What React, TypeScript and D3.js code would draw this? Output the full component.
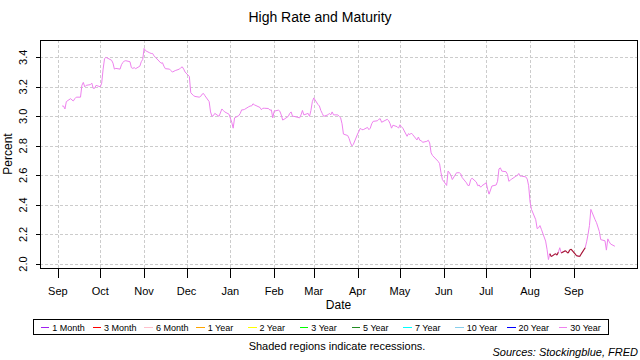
import React from 'react';
import * as d3 from 'd3';

const dates: string[] = [
  '2018-09-04','2018-09-05','2018-09-06','2018-09-07','2018-09-10','2018-09-11','2018-09-12','2018-09-13','2018-09-14',
  '2018-09-17','2018-09-18','2018-09-19','2018-09-20','2018-09-21','2018-09-24','2018-09-25','2018-09-26','2018-09-27','2018-09-28',
  '2018-10-01','2018-10-02','2018-10-03','2018-10-04','2018-10-05','2018-10-09','2018-10-10','2018-10-11','2018-10-12',
  '2018-10-15','2018-10-16','2018-10-17','2018-10-18','2018-10-19','2018-10-22','2018-10-23','2018-10-24','2018-10-25','2018-10-26',
  '2018-10-29','2018-10-30','2018-10-31','2018-11-01','2018-11-02','2018-11-05','2018-11-06','2018-11-07','2018-11-08','2018-11-09',
  '2018-11-13','2018-11-14','2018-11-15','2018-11-16','2018-11-19','2018-11-20','2018-11-21','2018-11-23',
  '2018-11-26','2018-11-27','2018-11-28','2018-11-29','2018-11-30','2018-12-03','2018-12-04','2018-12-06','2018-12-07',
  '2018-12-10','2018-12-11','2018-12-12','2018-12-13','2018-12-14','2018-12-17','2018-12-18','2018-12-19','2018-12-20','2018-12-21',
  '2018-12-24','2018-12-26','2018-12-27','2018-12-28','2018-12-31','2019-01-02','2019-01-03','2019-01-04',
  '2019-01-07','2019-01-08','2019-01-09','2019-01-10','2019-01-11','2019-01-14','2019-01-15','2019-01-16','2019-01-17','2019-01-18',
  '2019-01-22','2019-01-23','2019-01-24','2019-01-25','2019-01-28','2019-01-29','2019-01-30','2019-01-31','2019-02-01',
  '2019-02-04','2019-02-05','2019-02-06','2019-02-07','2019-02-08','2019-02-11','2019-02-12','2019-02-13','2019-02-14','2019-02-15',
  '2019-02-19','2019-02-20','2019-02-21','2019-02-22','2019-02-25','2019-02-26','2019-02-27','2019-02-28','2019-03-01',
  '2019-03-04','2019-03-05','2019-03-06','2019-03-07','2019-03-08','2019-03-11','2019-03-12','2019-03-13','2019-03-14','2019-03-15',
  '2019-03-18','2019-03-19','2019-03-20','2019-03-21','2019-03-22','2019-03-25','2019-03-26','2019-03-27','2019-03-28','2019-03-29',
  '2019-04-01','2019-04-02','2019-04-03','2019-04-04','2019-04-05','2019-04-08','2019-04-09','2019-04-10','2019-04-11','2019-04-12',
  '2019-04-15','2019-04-16','2019-04-17','2019-04-18','2019-04-22','2019-04-23','2019-04-24','2019-04-25','2019-04-26',
  '2019-04-29','2019-04-30','2019-05-01','2019-05-02','2019-05-03','2019-05-06','2019-05-07','2019-05-08','2019-05-09','2019-05-10',
  '2019-05-13','2019-05-14','2019-05-15','2019-05-16','2019-05-17','2019-05-20','2019-05-21','2019-05-22','2019-05-23','2019-05-24',
  '2019-05-28','2019-05-29','2019-05-30','2019-05-31','2019-06-03','2019-06-04','2019-06-05','2019-06-06','2019-06-07',
  '2019-06-10','2019-06-11','2019-06-12','2019-06-13','2019-06-14','2019-06-17','2019-06-18','2019-06-19','2019-06-20','2019-06-21',
  '2019-06-24','2019-06-25','2019-06-26','2019-06-27','2019-06-28','2019-07-01','2019-07-02','2019-07-03','2019-07-05',
  '2019-07-08','2019-07-09','2019-07-10','2019-07-11','2019-07-12','2019-07-15','2019-07-16','2019-07-17','2019-07-18','2019-07-19',
  '2019-07-22','2019-07-23','2019-07-24','2019-07-25','2019-07-26','2019-07-29','2019-07-30','2019-07-31','2019-08-01','2019-08-02',
  '2019-08-05','2019-08-06','2019-08-07','2019-08-08','2019-08-09','2019-08-12','2019-08-13','2019-08-14','2019-08-15','2019-08-16',
  '2019-08-19','2019-08-20','2019-08-21','2019-08-22','2019-08-23','2019-08-26','2019-08-27','2019-08-28','2019-08-29','2019-08-30',
  '2019-09-03','2019-09-04','2019-09-05','2019-09-06','2019-09-09','2019-09-10','2019-09-11','2019-09-12','2019-09-13',
  '2019-09-16','2019-09-17','2019-09-18','2019-09-19','2019-09-20','2019-09-23','2019-09-24','2019-09-25','2019-09-26','2019-09-27',
  '2019-09-30'
];

const rates: number[] = [
  3.07,3.07,3.05,3.10,3.12,3.11,3.105,3.12,3.13,
  3.13,3.21,3.23,3.20,3.21,3.215,3.225,3.19,3.19,3.21,
  3.20,3.225,3.32,3.39,3.40,3.38,3.36,3.32,3.325,
  3.32,3.35,3.365,3.375,3.377,3.37,3.33,3.325,3.33,3.323,
  3.34,3.37,3.385,3.46,3.445,3.43,3.426,3.426,3.41,3.40,
  3.36,3.363,3.34,3.323,3.32,3.31,3.30,3.31,
  3.32,3.33,3.335,3.32,3.30,3.27,3.16,3.14,3.135,
  3.13,3.135,3.15,3.155,3.14,3.10,3.03,3.00,3.005,3.02,
  3.00,3.05,3.04,3.03,3.015,2.96,2.92,2.99,
  3.005,3.02,3.044,3.044,3.047,3.065,3.07,3.07,3.085,3.078,
  3.06,3.045,3.055,3.055,3.053,3.042,3.044,2.99,3.035,
  3.042,3.035,3.01,2.975,2.98,3.00,3.02,3.03,3.00,3.00,
  2.99,3.01,3.04,3.01,3.02,3.00,3.04,3.10,3.125,
  3.08,3.07,3.04,3.02,3.00,3.01,3.02,3.01,3.03,3.01,
  3.01,3.00,2.99,2.95,2.88,2.87,2.85,2.82,2.80,2.81,
  2.88,2.90,2.92,2.91,2.91,2.925,2.91,2.92,2.95,2.966,
  2.97,2.98,2.984,2.96,2.98,2.97,2.95,2.92,2.94,
  2.93,2.92,2.943,2.93,2.92,2.865,2.883,2.876,2.887,2.876,
  2.84,2.86,2.838,2.836,2.824,2.831,2.838,2.82,2.753,2.735,
  2.695,2.68,2.618,2.572,2.532,2.629,2.618,2.60,2.572,
  2.618,2.618,2.618,2.61,2.585,2.55,2.532,2.532,2.572,2.581,
  2.555,2.53,2.535,2.52,2.53,2.55,2.505,2.473,2.528,
  2.535,2.56,2.644,2.651,2.629,2.625,2.607,2.56,2.568,2.575,
  2.595,2.60,2.613,2.595,2.595,2.59,2.575,2.53,2.42,2.37,
  2.30,2.24,2.245,2.26,2.235,2.155,2.10,2.03,2.07,2.05,
  2.07,2.06,2.08,2.11,2.075,2.09,2.08,2.074,2.095,2.10,
  2.055,2.054,2.05,2.065,2.11,2.15,2.20,2.26,2.37,
  2.30,2.28,2.25,2.22,2.165,2.157,2.094,2.17,2.15,2.135,
  2.12
];

// Days on which the highest rate came from the short end of the curve (drawn dark red)
const shortEndDates: string[] = [
  '2019-08-15','2019-08-16','2019-08-19','2019-08-20','2019-08-21','2019-08-23','2019-08-26','2019-08-27',
  '2019-08-28','2019-08-29','2019-08-30','2019-09-03','2019-09-04','2019-09-05','2019-09-06','2019-09-09'
];

const monthTicks: string[] = [
  '2018-09-01','2018-10-01','2018-11-01','2018-12-01','2019-01-01','2019-02-01','2019-03-01',
  '2019-04-01','2019-05-01','2019-06-01','2019-07-01','2019-08-01','2019-09-01'
];
const yTicks: number[] = [2.0, 2.2, 2.4, 2.6, 2.8, 3.0, 3.2, 3.4];

const legendLabels: string[] = ['1 Month','3 Month','6 Month','1 Year','2 Year','3 Year','5 Year','7 Year','10 Year','20 Year','30 Year'];
const legendColors: string[] = ['#a020f0','#ff0000','#ffc0cb','#ffa500','#ffff00','#00ff00','#228b22','#00ffff','#87ceeb','#0000ff','#ee82ee'];

const LINE_COLOR = '#ee82ee';
const SHORT_COLOR = '#a51c30';
const FONT = 'Liberation Sans, Arial, Helvetica, sans-serif';

type P = { date: Date; v: number; short: boolean };

export default function App() {
  const W = 640, H = 360;
  const left = 40, right = 637, top = 40, bottom = 268;
  const parse = d3.utcParse('%Y-%m-%d');
  const pts: P[] = dates.map((d, i) => ({ date: parse(d) as Date, v: rates[i], short: shortEndDates.includes(d) }));

  const [xa, xb] = d3.extent(pts, p => +p.date) as [number, number];
  const xs = xb - xa;
  const x = d3.scaleUtc().domain([new Date(xa - 0.04 * xs), new Date(xb + 0.04 * xs)]).range([left, right]);
  const [ya, yb] = d3.extent(rates) as [number, number];
  const ys = yb - ya;
  const y = d3.scaleLinear().domain([ya - 0.04 * ys, yb + 0.04 * ys]).range([bottom, top]);

  const line = d3.line<P>().x(p => x(p.date)).y(p => y(p.v));
  const shortSegs: P[][] = [];
  for (let i = 0; i < pts.length - 1; i++) {
    if (pts[i].short && pts[i + 1].short) shortSegs.push([pts[i], pts[i + 1]]);
  }
  const fmt = d3.utcFormat('%b');
  const ticks = monthTicks.map(s => parse(s) as Date);

  const legendStart = 52.3, legendStep = 51.8;

  return (
    <svg width={W} height={H} style={{ position: 'absolute', left: 0, top: 0, background: '#fff' }} fontFamily={FONT}>
      <rect x={0} y={0} width={W} height={H} fill="#fff" />
      <text x={320} y={22} textAnchor="middle" fontSize={14} fill="#000">High Rate and Maturity</text>

      {/* grid */}
      <g stroke="#cccccc" strokeWidth={1} strokeDasharray="3,2" shapeRendering="crispEdges">
        {ticks.map((t, i) => (
          <line key={'gx' + i} x1={Math.round(x(t)) + 0.5} x2={Math.round(x(t)) + 0.5} y1={top} y2={bottom} />
        ))}
        {yTicks.map((v, i) => (
          <line key={'gy' + i} x1={left} x2={right} y1={Math.round(y(v)) + 0.5} y2={Math.round(y(v)) + 0.5} />
        ))}
      </g>

      {/* data */}
      <path d={line(pts) || ''} fill="none" stroke={LINE_COLOR} strokeWidth={1} />
      {shortSegs.map((s, i) => (
        <path key={'s' + i} d={line(s) || ''} fill="none" stroke={SHORT_COLOR} strokeWidth={1.1} />
      ))}

      {/* box */}
      <rect x={left + 0.5} y={top + 0.5} width={right - left} height={bottom - top} fill="none" stroke="#000" strokeWidth={1} shapeRendering="crispEdges" />

      {/* y axis */}
      <g shapeRendering="crispEdges">
        {yTicks.map((v, i) => (
          <line key={'yt' + i} x1={36} x2={left} y1={Math.round(y(v)) + 0.5} y2={Math.round(y(v)) + 0.5} stroke="#000" />
        ))}
      </g>
      {yTicks.map((v, i) => (
        <text key={'yl' + i} transform={`translate(26.7,${y(v)}) rotate(-90)`} textAnchor="middle" fontSize={11} fill="#000">
          {v.toFixed(1)}
        </text>
      ))}
      <text transform={`translate(11.7,${(top + bottom) / 2}) rotate(-90)`} textAnchor="middle" fontSize={12} fill="#000">Percent</text>

      {/* x axis */}
      <g shapeRendering="crispEdges">
        {ticks.map((t, i) => (
          <line key={'xt' + i} x1={Math.round(x(t)) + 0.5} x2={Math.round(x(t)) + 0.5} y1={bottom} y2={bottom + 10} stroke="#000" />
        ))}
      </g>
      {ticks.map((t, i) => (
        <text key={'xl' + i} x={x(t)} y={295} textAnchor="middle" fontSize={11} fill="#000">{fmt(t)}</text>
      ))}
      <text x={(left + right) / 2} y={309} textAnchor="middle" fontSize={12} fill="#000">Date</text>

      {/* legend */}
      <rect x={33.5} y={319.5} width={575} height={15} fill="#fff" stroke="#000" strokeWidth={1} shapeRendering="crispEdges" />
      {legendLabels.map((l, i) => {
        const tx = legendStart + legendStep * i;
        return (
          <g key={'lg' + i}>
            <line x1={tx - 11.5} x2={tx - 3} y1={327.5} y2={327.5} stroke={legendColors[i]} strokeWidth={1} shapeRendering="crispEdges" />
            <text x={tx} y={331} fontSize={9} fill="#000">{l}</text>
          </g>
        );
      })}

      <text x={337} y={349.5} textAnchor="middle" fontSize={11} fill="#000">Shaded regions indicate recessions.</text>
      <text x={638} y={356} textAnchor="end" fontSize={11} fontStyle="italic" fill="#000">Sources: Stockingblue, FRED</text>
    </svg>
  );
}
